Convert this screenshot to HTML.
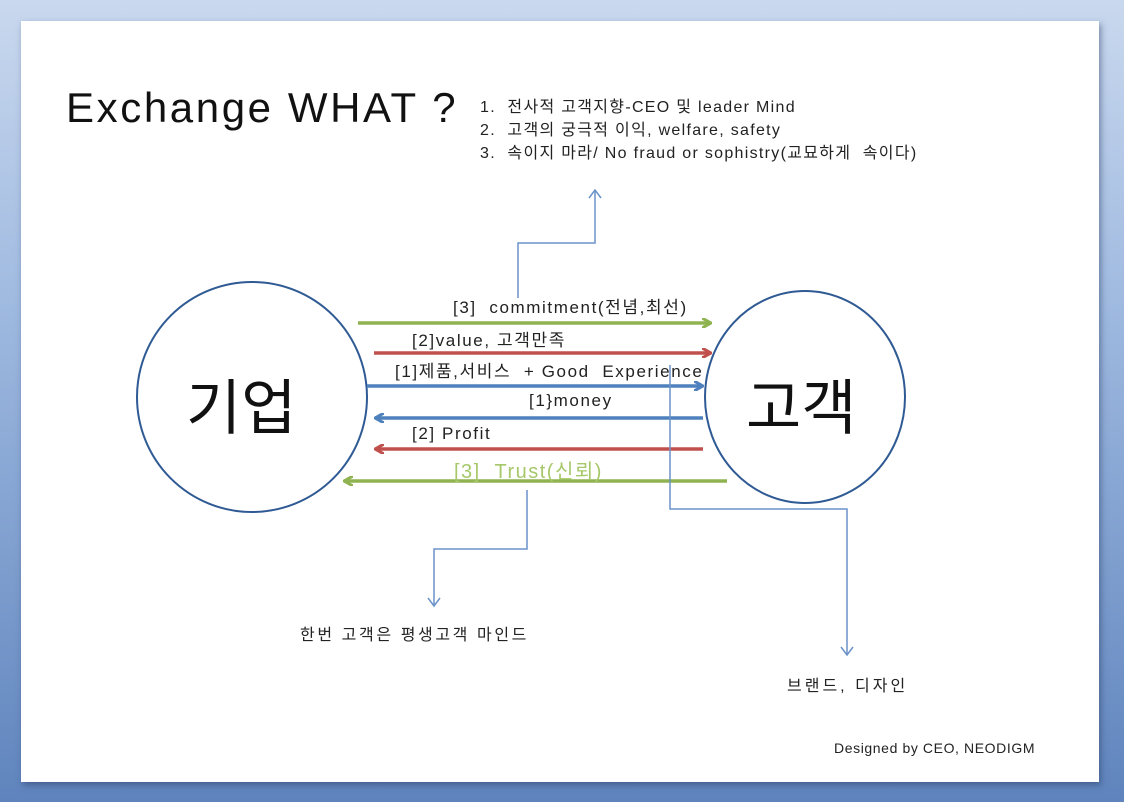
<!DOCTYPE html>
<html><head><meta charset="utf-8"><style>
html,body{margin:0;padding:0;width:1124px;height:802px;overflow:hidden}
body{background:linear-gradient(180deg,#c9d8ee 0%,#9db8df 40%,#5f84bd 100%);position:relative;font-family:"Liberation Sans","Noto Sans CJK KR",sans-serif}
#slide{position:absolute;left:21px;top:21px;width:1078px;height:761px;background:#fff;box-shadow:2px 3px 6px rgba(40,60,100,.5)}
svg{position:absolute;left:0;top:0}
.t{position:absolute;white-space:nowrap;color:#222}
.a{font-size:17px;letter-spacing:1.6px}
</style></head><body>
<div id="slide"></div>
<svg width="1124" height="802" viewBox="0 0 1124 802">
<defs>
<marker id="g" markerWidth="10" markerHeight="10" refX="8" refY="5" orient="auto" markerUnits="userSpaceOnUse"><path d="M0,0 L9,5 L0,10" fill="none" stroke="#8fb350" stroke-width="3"/></marker>
<marker id="r" markerWidth="10" markerHeight="10" refX="8" refY="5" orient="auto" markerUnits="userSpaceOnUse"><path d="M0,0 L9,5 L0,10" fill="none" stroke="#c0504d" stroke-width="3"/></marker>
<marker id="b" markerWidth="10" markerHeight="10" refX="8" refY="5" orient="auto" markerUnits="userSpaceOnUse"><path d="M0,0 L9,5 L0,10" fill="none" stroke="#4f81bd" stroke-width="3"/></marker>
</defs>
<ellipse cx="252" cy="397" rx="115" ry="115" fill="none" stroke="#2f5a94" stroke-width="2"/>
<ellipse cx="805" cy="397" rx="100" ry="106" fill="none" stroke="#2f5a94" stroke-width="2"/>
<line x1="358" y1="323" x2="710" y2="323" stroke="#8fb350" stroke-width="3.5" marker-end="url(#g)"/>
<line x1="374" y1="353" x2="710" y2="353" stroke="#c0504d" stroke-width="3.5" marker-end="url(#r)"/>
<line x1="367" y1="386" x2="702" y2="386" stroke="#4f81bd" stroke-width="3.5" marker-end="url(#b)"/>
<line x1="703" y1="418" x2="376" y2="418" stroke="#4f81bd" stroke-width="3.5" marker-end="url(#b)"/>
<line x1="703" y1="449" x2="376" y2="449" stroke="#c0504d" stroke-width="3.5" marker-end="url(#r)"/>
<line x1="727" y1="481" x2="345" y2="481" stroke="#8fb350" stroke-width="3.5" marker-end="url(#g)"/>
<polyline points="518,298 518,243 595,243 595,190" fill="none" stroke="#6a92c8" stroke-width="1.5"/>
<path d="M589,198 L595,190 L601,198" fill="none" stroke="#6a92c8" stroke-width="1.5"/>
<polyline points="527,490 527,549 434,549 434,606" fill="none" stroke="#6a92c8" stroke-width="1.5"/>
<path d="M428,598 L434,606 L440,598" fill="none" stroke="#6a92c8" stroke-width="1.5"/>
<polyline points="670,365 670,509 847,509 847,655" fill="none" stroke="#6a92c8" stroke-width="1.5"/>
<path d="M841,647 L847,655 L853,647" fill="none" stroke="#6a92c8" stroke-width="1.5"/>
</svg>
<div class="t" style="left:66px;top:84px;font-size:42px;letter-spacing:2.6px;color:#111">Exchange WHAT ?</div>
<div class="t" style="left:480px;top:96px;font-size:16px;letter-spacing:1.3px;line-height:23px">1.&nbsp; 전사적 고객지향-CEO 및 leader Mind<br>2.&nbsp; 고객의 궁극적 이익, welfare, safety<br>3.&nbsp; 속이지 마라/ No fraud or sophistry(교묘하게&nbsp; 속이다)</div>
<div class="t a" style="left:453px;top:293px">[3]&nbsp; commitment(전념,최선)</div>
<div class="t a" style="left:412px;top:326px">[2]value, 고객만족</div>
<div class="t a" style="left:395px;top:357px">[1]제품,서비스 &nbsp;+ Good&nbsp; Experience</div>
<div class="t a" style="left:529px;top:391px">[1}money</div>
<div class="t a" style="left:412px;top:424px">[2] Profit</div>
<div class="t" style="left:454px;top:455px;font-size:20px;letter-spacing:1.5px;color:#a6c86a">[3]&nbsp; Trust(신뢰)</div>
<div class="t" style="left:186px;top:360px;font-size:60px;color:#111">기업</div>
<div class="t" style="left:746px;top:360px;font-size:60px;color:#111">고객</div>
<div class="t" style="left:300px;top:621px;font-size:16px;letter-spacing:2.6px">한번 고객은 평생고객 마인드</div>
<div class="t" style="left:787px;top:672px;font-size:16px;letter-spacing:3px">브랜드, 디자인</div>
<div class="t" style="left:834px;top:740px;font-size:14px;letter-spacing:0.6px">Designed by CEO, NEODIGM</div>
</body></html>
